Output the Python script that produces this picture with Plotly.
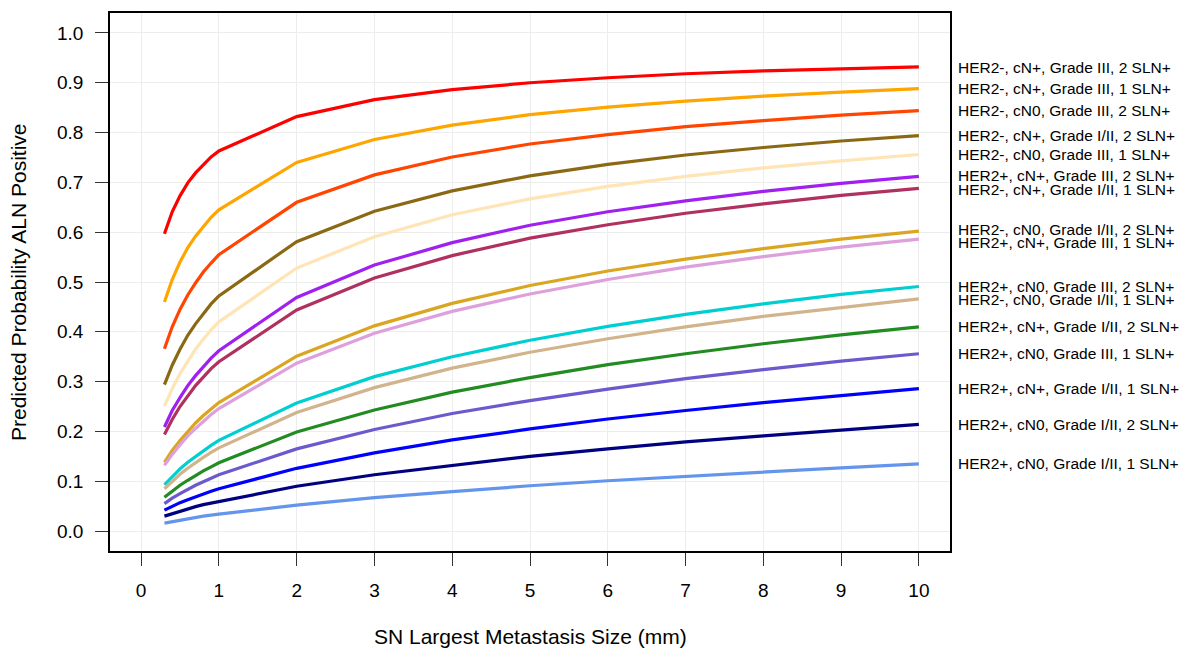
import plotly.graph_objects as go

# x values (SN largest metastasis size, mm)
size_mm = [0.3, 0.4, 0.5, 0.6, 0.7, 0.8, 0.9, 1, 2, 3, 4, 5, 6, 7, 8, 9, 10]

labels = [
    "HER2-, cN+, Grade III, 2 SLN+",
    "HER2-, cN+, Grade III, 1 SLN+",
    "HER2-, cN0, Grade III, 2 SLN+",
    "HER2-, cN+, Grade I/II, 2 SLN+",
    "HER2-, cN0, Grade III, 1 SLN+",
    "HER2+, cN+, Grade III, 2 SLN+",
    "HER2-, cN+, Grade I/II, 1 SLN+",
    "HER2-, cN0, Grade I/II, 2 SLN+",
    "HER2+, cN+, Grade III, 1 SLN+",
    "HER2+, cN0, Grade III, 2 SLN+",
    "HER2-, cN0, Grade I/II, 1 SLN+",
    "HER2+, cN+, Grade I/II, 2 SLN+",
    "HER2+, cN0, Grade III, 1 SLN+",
    "HER2+, cN+, Grade I/II, 1 SLN+",
    "HER2+, cN0, Grade I/II, 2 SLN+",
    "HER2+, cN0, Grade I/II, 1 SLN+",
]

# vertical positions of the right-hand labels (as placed in the reference)
label_y = [0.930, 0.888, 0.844, 0.794, 0.756, 0.713, 0.686, 0.605, 0.579,
           0.491, 0.465, 0.410, 0.357, 0.286, 0.214, 0.136]

s_red = [0.597, 0.641, 0.673, 0.699, 0.719, 0.736, 0.751, 0.763, 0.832, 0.866, 0.886, 0.900, 0.910, 0.918, 0.924, 0.928, 0.932]
s_orange = [0.460, 0.505, 0.540, 0.569, 0.592, 0.612, 0.630, 0.645, 0.740, 0.786, 0.815, 0.836, 0.851, 0.863, 0.873, 0.881, 0.888]
s_orangered = [0.366, 0.410, 0.445, 0.474, 0.498, 0.520, 0.538, 0.555, 0.660, 0.715, 0.751, 0.777, 0.796, 0.812, 0.824, 0.835, 0.844]
s_brown = [0.294, 0.333, 0.365, 0.393, 0.416, 0.437, 0.456, 0.472, 0.581, 0.642, 0.683, 0.713, 0.736, 0.755, 0.770, 0.783, 0.794]
s_moccasin = [0.251, 0.286, 0.316, 0.342, 0.365, 0.385, 0.404, 0.420, 0.528, 0.591, 0.635, 0.667, 0.692, 0.712, 0.729, 0.743, 0.756]
s_purple = [0.209, 0.242, 0.268, 0.292, 0.312, 0.330, 0.347, 0.362, 0.469, 0.534, 0.579, 0.614, 0.641, 0.663, 0.682, 0.698, 0.712]
s_maroon = [0.194, 0.224, 0.250, 0.272, 0.292, 0.309, 0.326, 0.340, 0.444, 0.508, 0.553, 0.588, 0.615, 0.638, 0.657, 0.674, 0.688]
s_goldenrod = [0.138, 0.162, 0.182, 0.200, 0.217, 0.232, 0.245, 0.258, 0.351, 0.412, 0.457, 0.493, 0.522, 0.546, 0.567, 0.586, 0.602]
s_plum = [0.132, 0.154, 0.173, 0.191, 0.206, 0.221, 0.234, 0.246, 0.337, 0.397, 0.441, 0.476, 0.505, 0.530, 0.551, 0.570, 0.586]
s_turquoise = [0.093, 0.110, 0.125, 0.138, 0.150, 0.162, 0.172, 0.182, 0.257, 0.310, 0.350, 0.383, 0.411, 0.435, 0.456, 0.475, 0.491]
s_tan = [0.085, 0.100, 0.114, 0.126, 0.138, 0.148, 0.158, 0.167, 0.238, 0.288, 0.327, 0.359, 0.386, 0.410, 0.431, 0.449, 0.466]
s_green = [0.068, 0.081, 0.092, 0.102, 0.112, 0.121, 0.129, 0.137, 0.199, 0.243, 0.279, 0.308, 0.334, 0.356, 0.376, 0.394, 0.410]
s_slateblue = [0.055, 0.066, 0.075, 0.084, 0.092, 0.099, 0.106, 0.113, 0.165, 0.204, 0.236, 0.262, 0.285, 0.306, 0.324, 0.341, 0.356]
s_blue = [0.042, 0.050, 0.057, 0.063, 0.069, 0.075, 0.080, 0.085, 0.126, 0.157, 0.183, 0.205, 0.225, 0.242, 0.258, 0.272, 0.286]
s_navy = [0.030, 0.035, 0.040, 0.045, 0.049, 0.053, 0.056, 0.060, 0.090, 0.113, 0.132, 0.150, 0.165, 0.179, 0.191, 0.203, 0.214]
s_cornflower = [0.016, 0.019, 0.022, 0.025, 0.027, 0.030, 0.032, 0.034, 0.052, 0.067, 0.079, 0.091, 0.101, 0.110, 0.119, 0.127, 0.135]

series = [s_red, s_orange, s_orangered, s_brown, s_moccasin, s_purple, s_maroon,
          s_goldenrod, s_plum, s_turquoise, s_tan, s_green, s_slateblue, s_blue,
          s_navy, s_cornflower]

colors = ["#FF0000", "#FFA500", "#FF4500", "#8B6914", "#FFE4B5", "#A020F0", "#B03060",
          "#DAA520", "#DDA0DD", "#00CED1", "#D2B48C", "#228B22", "#6A5ACD", "#0000FF",
          "#000080", "#6495ED"]

x_ticks = list(range(0, 11))
y_ticks = [0.0, 0.1, 0.2, 0.3, 0.4, 0.5, 0.6, 0.7, 0.8, 0.9, 1.0]

FONT = "Liberation Sans, Arial, Helvetica, sans-serif"

fig = go.Figure()
for name, ys, col, ly in zip(labels, series, colors, label_y):
    fig.add_trace(go.Scatter(x=size_mm, y=ys, mode="lines", name=name,
                             line=dict(color=col, width=3.2), showlegend=False))
    fig.add_annotation(x=1, xref="paper", y=ly, yref="y", text=name,
                       showarrow=False, xanchor="left", yanchor="middle", xshift=6,
                       font=dict(family=FONT, size=15.5, color="#000000"))

fig.add_annotation(x=0.5, xref="paper", y=-0.159, yref="paper",
                   text="SN Largest Metastasis Size (mm)", showarrow=False,
                   xanchor="center", yanchor="middle",
                   font=dict(family=FONT, size=21, color="#000000"))
fig.add_annotation(x=-0.1095, xref="paper", y=0.5, yref="paper",
                   text="Predicted Probability ALN Positive", showarrow=False,
                   textangle=-90, xanchor="center", yanchor="middle",
                   font=dict(family=FONT, size=21, color="#000000"))

axis_common = dict(showline=True, linecolor="#000000", linewidth=1.5, mirror=True,
                   ticks="outside", ticklen=13, tickwidth=1.2, tickcolor="#333333",
                   showgrid=True, gridcolor="#EDEDED", gridwidth=1, zeroline=False,
                   tickfont=dict(family=FONT, size=19, color="#000000"))

fig.update_xaxes(range=[-0.4, 10.4], tickvals=x_ticks, ticklabelstandoff=8, **axis_common)
fig.update_yaxes(range=[-0.04, 1.04], tickvals=y_ticks, tickformat=".1f",
                 ticklabelstandoff=8, **axis_common)

fig.update_layout(width=1193, height=658,
                  margin=dict(l=110, r=243, t=11, b=107, pad=0),
                  plot_bgcolor="white", paper_bgcolor="white",
                  font=dict(family=FONT))

fig.write_html("out.html")
